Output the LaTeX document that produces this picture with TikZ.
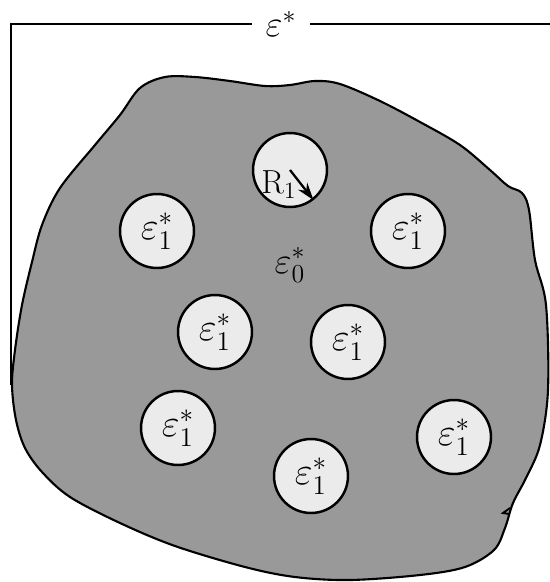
\documentclass[tikz,border=0pt]{standalone}
\usepackage{fix-cm}
\usetikzlibrary{arrows.meta}
\definecolor{blobgray}{gray}{0.6}
\definecolor{circfill}{gray}{0.92}
\begin{document}
\begin{tikzpicture}[x=0.02cm,y=-0.02cm,
  incl/.style={circle, draw=black, line width=1.4pt, fill=circfill, minimum size=1.48cm, inner sep=0pt, font=\fontsize{22}{24}\selectfont},
  lbl/.style={font=\fontsize{21}{23}\selectfont, inner sep=0pt},
  frameline/.style={line width=1.1pt}]
\useasboundingbox (0,0) rectangle (550,582);
\fill[white] (0,0) rectangle (550,582);
% matrix region
\draw[line width=1.2pt, fill=blobgray] plot[smooth cycle, tension=0.55] coordinates {
(12,385) (15,350) (22,305) (32,262) (42,225) (60,188) (95,145) (120,115)
(140,88) (165,77) (195,77) (230,81) (265,86) (290,85) (315,81) (340,84)
(380,101) (420,122) (460,145) (490,170) (508,186) (522,193) (529,210)
(535,260) (546,305) (548,390) (540,445) (526,478) (513,503)
(505,528) (494,550) (465,567) (420,575) (350,580) (295,577)
(245,567) (175,546) (120,523) (70,497) (42,472) (25,448) (16,420)};
\draw[line width=1.1pt, line join=miter] (510,508) -- (503,513) -- (509,514);
% frame
\node[lbl, minimum width=1.16cm] (eps) at (281,24) {$\varepsilon^*$};
\coordinate (corner) at (11,24);
\coordinate (join) at (11,385);
\coordinate (rend) at (550,24);
\draw[frameline] (eps.west |- corner) -- (corner) -- (join);
\draw[frameline] (eps.east |- corner) -- (rend);
% inclusions
\node[incl] (c1) at (290,170) {};
\node[incl] (c2) at (157,231) {$\varepsilon_1^*$};
\node[incl] (c3) at (408,231) {$\varepsilon_1^*$};
\node[incl] (c4) at (215,332) {$\varepsilon_1^*$};
\node[incl] (c5) at (348,342) {$\varepsilon_1^*$};
\node[incl] (c6) at (178,428) {$\varepsilon_1^*$};
\node[incl] (c7) at (311,476) {$\varepsilon_1^*$};
\node[incl] (c8) at (454,437) {$\varepsilon_1^*$};
\node[font=\fontsize{19}{21}\selectfont, inner sep=0pt] (r1) at (279,185) {R$_1$};
\draw[line width=1.3pt, -{Stealth[length=10pt,width=6.5pt]}] (c1.center) -- (c1.-52);
\node[lbl] (e0) at (290,265) {$\varepsilon_0^*$};
\end{tikzpicture}
\end{document}
